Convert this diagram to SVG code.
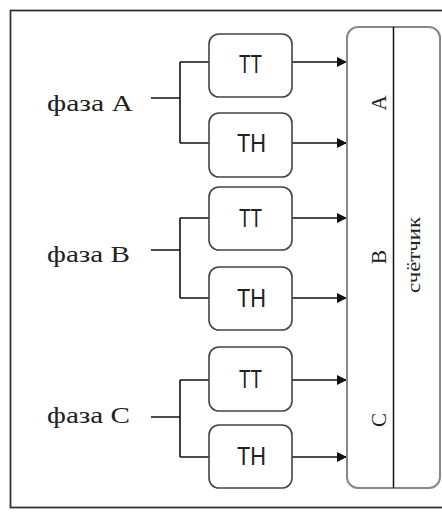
<svg xmlns="http://www.w3.org/2000/svg" width="442" height="518" viewBox="0 0 442 518">
<defs>
<style>
.box{fill:#fff;stroke:#444;stroke-width:1.6}
.lbl{font-family:"Liberation Sans",Arial,sans-serif;font-size:25px;fill:#222;text-anchor:middle}
.ph{font-family:"Liberation Serif","Times New Roman",serif;font-size:23px;fill:#222}
.ser{font-family:"Liberation Serif","Times New Roman",serif;fill:#222;text-anchor:middle}
.wire{fill:none;stroke:#111;stroke-width:1.6}
.arr{fill:none;stroke:#111;stroke-width:1.6;marker-end:url(#ah)}
</style>
<marker id="ah" viewBox="0 0 10 10" refX="10" refY="5" markerWidth="10" markerHeight="10" markerUnits="userSpaceOnUse" orient="auto">
<path d="M0,0 L10,5 L0,10 Z" fill="#111"/>
</marker>
</defs>
<rect x="10.5" y="10.5" width="440" height="497" fill="#fff" stroke="#333" stroke-width="1.8"/>

<g id="connectors">
<path class="wire" d="M151,98 H180 M180,62 V143 M180,62 H209 M180,143 H209"/>
<path class="arr" d="M292,62 H347"/>
<path class="arr" d="M292,143 H347"/>
<path class="wire" d="M151,250 H180 M180,218 V298 M180,218 H209 M180,298 H209"/>
<path class="arr" d="M292,218 H347"/>
<path class="arr" d="M292,298 H347"/>
<path class="wire" d="M151,417 H180 M180,380 V457 M180,380 H209 M180,457 H209"/>
<path class="arr" d="M292,380 H347"/>
<path class="arr" d="M292,457 H347"/>
</g>

<g id="phaseA"><text class="ph" x="47" y="111" textLength="86" lengthAdjust="spacingAndGlyphs">фаза A</text></g>
<g id="phaseB"><text class="ph" x="47" y="262" textLength="83" lengthAdjust="spacingAndGlyphs">фаза B</text></g>
<g id="phaseC"><text class="ph" x="47" y="423" textLength="83" lengthAdjust="spacingAndGlyphs">фаза C</text></g>

<g id="TT_A"><rect class="box" x="209" y="34" width="83" height="63" rx="10"/><text class="lbl" x="250.5" y="73" textLength="23" lengthAdjust="spacingAndGlyphs">ТТ</text></g>
<g id="TH_A"><rect class="box" x="209" y="113" width="83" height="64" rx="10"/><text class="lbl" x="251.5" y="152" textLength="29" lengthAdjust="spacingAndGlyphs">ТН</text></g>
<g id="TT_B"><rect class="box" x="209" y="187" width="83" height="63" rx="10"/><text class="lbl" x="250.5" y="227" textLength="23" lengthAdjust="spacingAndGlyphs">ТТ</text></g>
<g id="TH_B"><rect class="box" x="209" y="267" width="83" height="63" rx="10"/><text class="lbl" x="251.5" y="307" textLength="29" lengthAdjust="spacingAndGlyphs">ТН</text></g>
<g id="TT_C"><rect class="box" x="209" y="347" width="83" height="64" rx="10"/><text class="lbl" x="250.5" y="388" textLength="23" lengthAdjust="spacingAndGlyphs">ТТ</text></g>
<g id="TH_C"><rect class="box" x="209" y="425" width="83" height="63" rx="10"/><text class="lbl" x="251.5" y="465" textLength="29" lengthAdjust="spacingAndGlyphs">ТН</text></g>

<g id="counter">
<rect x="347" y="27" width="93" height="461" rx="11" fill="#fff" stroke="#888" stroke-width="2"/>
<line x1="393.5" y1="27" x2="393.5" y2="488" stroke="#111" stroke-width="1.5"/>
<text class="ser" font-size="21" transform="translate(386,103) rotate(-90)">A</text>
<text class="ser" font-size="21" transform="translate(386,257) rotate(-90)">B</text>
<text class="ser" font-size="21" transform="translate(386,420) rotate(-90)">C</text>
<text class="ser" font-size="19" transform="translate(420,255) rotate(-90)" textLength="76" lengthAdjust="spacingAndGlyphs">счётчик</text>
</g>
</svg>
